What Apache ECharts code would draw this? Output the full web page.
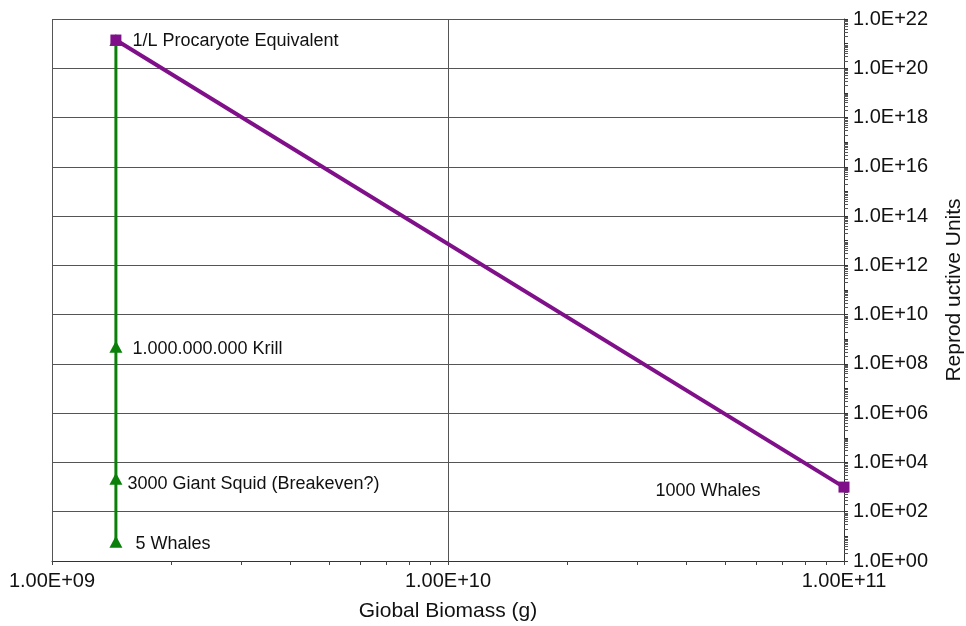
<!DOCTYPE html>
<html>
<head>
<meta charset="utf-8">
<script src="https://cdn.jsdelivr.net/npm/echarts@6/dist/echarts.min.js"></script>
<style>
    html, body { margin: 0; padding: 0; background: #fff; }
    #chart { width: 966px; height: 626px; }
</style>
</head>
<body>
<div id="chart"></div>
<script>
    // x = global biomass (g), y = reproductive units
    const biomassGreen = [1.45e9, 1.45e9, 1.45e9, 1.45e9];
    const unitsGreen = [6, 2200, 5e8, 1.4e21];
    const labelsGreen = ['5 Whales', '3000 Giant Squid (Breakeven?)', '1.000.000.000 Krill', ''];

    const biomassPurple = [1.45e9, 1e11];
    const unitsPurple = [1.4e21, 1000];
    const labelsPurple = ['1/L Procaryote Equivalent', '1000 Whales'];

    const xTicks = [1e9, 1e10, 1e11];
    const yMin = 1, yMax = 1e22;

    // label placement (style only)
    const greenLabelPos = [
        {position: 'right', distance: 13, offset: [0, 2]},
        {position: 'right', distance: 5, offset: [0, 5]},
        {position: 'right', distance: 10, offset: [0, 2]},
        {position: 'right', distance: 10, offset: [0, 0]}
    ];
    const purpleLabelPos = [
        {position: 'right', distance: 11, offset: [0, 1]},
        {position: 'left', distance: 78, offset: [0, 4]}
    ];

    const FONT = '"Liberation Sans", Arial, sans-serif';

    function sci(v, digits) {
        const e = Math.round(Math.log10(v));
        const m = v / Math.pow(10, e);
        const sign = e < 0 ? '-' : '+';
        const ee = Math.abs(e) < 10 ? '0' + Math.abs(e) : '' + Math.abs(e);
        return m.toFixed(digits) + 'E' + sign + ee;
    }

    const chart = echarts.init(document.getElementById('chart'));
    chart.setOption({
        animation: false,
        backgroundColor: '#ffffff',
        grid: {
            left: 52,
            right: 122,
            top: 19,
            bottom: 65,
            outerBoundsMode: 'none'
        },
        xAxis: {
            type: 'log',
            logBase: 10,
            min: xTicks[0],
            max: xTicks[xTicks.length - 1],
            interval: 1,
            name: 'Giobal Biomass (g)',
            nameLocation: 'middle',
            nameGap: 40,
            nameTextStyle: {color: '#111', fontSize: 21, fontFamily: FONT},
            axisLine: {lineStyle: {color: '#333', width: 1}},
            axisTick: {show: true, length: 4, lineStyle: {color: '#444'}},
            minorTick: {show: true, splitNumber: 9, length: 4, lineStyle: {color: '#444'}},
            axisLabel: {
                color: '#111', fontSize: 20, fontFamily: FONT, margin: 10,
                formatter: v => sci(v, 2)
            },
            splitLine: {show: true, lineStyle: {color: '#555', width: 1}}
        },
        yAxis: [
            {
                type: 'log',
                logBase: 10,
                min: yMin,
                max: yMax,
                interval: 2,
                position: 'right',
                name: 'Reprod uctive Units',
                nameLocation: 'middle',
                nameRotate: 90,
                nameGap: 100,
                nameTextStyle: {color: '#111', fontSize: 21, fontFamily: FONT},
                axisLine: {show: true, lineStyle: {color: '#333', width: 1}},
                axisTick: {show: true, length: 4, lineStyle: {color: '#333'}},
                axisLabel: {
                    color: '#111', fontSize: 20, fontFamily: FONT, margin: 9,
                    formatter: v => sci(v, 1)
                },
                splitLine: {show: true, lineStyle: {color: '#555', width: 1}}
            },
            {
                // per-decade minor ticks, same scale as the main axis
                type: 'log',
                logBase: 10,
                min: yMin,
                max: yMax,
                interval: 1,
                position: 'right',
                axisLine: {show: false},
                axisTick: {show: true, length: 4, lineStyle: {color: '#333'}},
                minorTick: {show: true, splitNumber: 9, length: 4, lineStyle: {color: '#555'}},
                axisLabel: {show: false},
                splitLine: {show: false}
            }
        ],
        series: [
            {
                name: 'green',
                type: 'line',
                yAxisIndex: 0,
                symbol: 'triangle',
                symbolSize: [13, 12],
                showAllSymbol: true,
                lineStyle: {color: '#0a800a', width: 3},
                itemStyle: {color: '#0a800a'},
                label: {show: true, color: '#111', fontSize: 18, fontFamily: FONT},
                data: unitsGreen.map((u, i) => ({
                    value: [biomassGreen[i], u],
                    label: Object.assign({formatter: labelsGreen[i]}, greenLabelPos[i])
                })),
                z: 2
            },
            {
                name: 'purple',
                type: 'line',
                yAxisIndex: 0,
                symbol: 'rect',
                symbolSize: 11,
                showAllSymbol: true,
                lineStyle: {color: '#80108a', width: 4},
                itemStyle: {color: '#80108a'},
                label: {show: true, color: '#111', fontSize: 18, fontFamily: FONT},
                data: unitsPurple.map((u, i) => ({
                    value: [biomassPurple[i], u],
                    label: Object.assign({formatter: labelsPurple[i]}, purpleLabelPos[i])
                })),
                z: 3
            }
        ]
    });
</script>
</body>
</html>
